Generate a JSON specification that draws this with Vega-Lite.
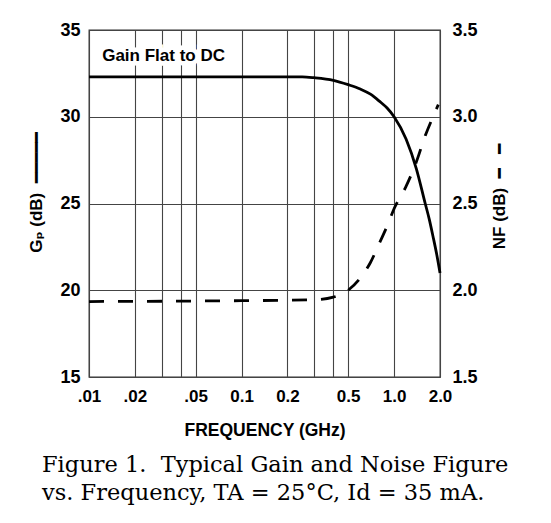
{
  "$schema": "https://vega.github.io/schema/vega-lite/v6.json",
  "width": 351,
  "height": 347,
  "autosize": "none",
  "padding": {"left": 89, "top": 30, "right": 111, "bottom": 146},
  "background": "white",
  "config": {
    "view": {"stroke": "#333", "strokeWidth": 1.3},
    "font": "Liberation Sans"
  },
  "title": {
    "text": ["Figure 1.\u00a0 Typical Gain and Noise Figure", "vs. Frequency, TA = 25°C, Id = 35 mA."],
    "orient": "bottom",
    "anchor": "start",
    "frame": "group",
    "font": "DejaVu Serif",
    "fontSize": 22.5,
    "fontWeight": "normal",
    "lineHeight": 28,
    "dx": -47,
    "offset": 15,
    "color": "black"
  },
  "datasets": {
    "gain": [
      {"freq": 0.01, "gain": 32.3},
      {"freq": 0.1, "gain": 32.3},
      {"freq": 0.25, "gain": 32.3},
      {"freq": 0.3, "gain": 32.25},
      {"freq": 0.4, "gain": 32.1},
      {"freq": 0.5, "gain": 31.85},
      {"freq": 0.6, "gain": 31.6},
      {"freq": 0.7, "gain": 31.3},
      {"freq": 0.8, "gain": 30.9},
      {"freq": 0.9, "gain": 30.5},
      {"freq": 1.0, "gain": 30.0},
      {"freq": 1.2, "gain": 28.7},
      {"freq": 1.4, "gain": 27.0},
      {"freq": 1.6, "gain": 25.0},
      {"freq": 1.7, "gain": 24.1},
      {"freq": 1.8, "gain": 23.1},
      {"freq": 1.9, "gain": 22.1},
      {"freq": 2.0, "gain": 21.0}
    ],
    "nf": [
      {"freq": 0.01, "nf": 1.935},
      {"freq": 0.1, "nf": 1.94},
      {"freq": 0.3, "nf": 1.945},
      {"freq": 0.4, "nf": 1.96},
      {"freq": 0.5, "nf": 2.0},
      {"freq": 0.6, "nf": 2.07},
      {"freq": 0.7, "nf": 2.16},
      {"freq": 0.8, "nf": 2.27},
      {"freq": 0.9, "nf": 2.37},
      {"freq": 1.0, "nf": 2.47},
      {"freq": 1.2, "nf": 2.6},
      {"freq": 1.4, "nf": 2.74},
      {"freq": 1.6, "nf": 2.89},
      {"freq": 1.8, "nf": 3.0},
      {"freq": 1.95, "nf": 3.07}
    ]
  },
  "layer": [
    {
      "layer": [
        {
          "data": {"name": "gain"},
          "mark": {"type": "line", "color": "black", "strokeWidth": 2.8, "interpolate": "monotone"},
          "encoding": {
            "x": {
              "field": "freq",
              "type": "quantitative",
              "scale": {"type": "log", "domain": [0.01, 2], "nice": false},
              "axis": {
                "values": [0.01, 0.02, 0.03, 0.04, 0.05, 0.1, 0.2, 0.3, 0.4, 0.5, 1, 2],
                "labelExpr": "datum.value == 0.01 ? '.01' : datum.value == 0.02 ? '.02' : datum.value == 0.05 ? '.05' : datum.value == 0.1 ? '0.1' : datum.value == 0.2 ? '0.2' : datum.value == 0.5 ? '0.5' : datum.value == 1 ? '1.0' : datum.value == 2 ? '2.0' : ''",
                "labelFontSize": 17,
                "labelFontWeight": "bold",
                "labelColor": "black",
                "labelPadding": 11,
                "labelFlush": false,
                "labelOverlap": false,
                "ticks": false,
                "domain": false,
                "grid": true,
                "gridColor": "#444",
                "gridWidth": 1.1,
                "title": "FREQUENCY (GHz)",
                "titleFontSize": 17.5,
                "titleFontWeight": "bold",
                "titleColor": "black",
                "titlePadding": 17
              }
            },
            "y": {
              "field": "gain",
              "type": "quantitative",
              "scale": {"domain": [15, 35], "nice": false, "zero": false},
              "axis": {
                "orient": "left",
                "values": [15, 20, 25, 30, 35],
                "labelFontSize": 18,
                "labelFontWeight": "bold",
                "labelColor": "black",
                "labelPadding": 9,
                "labelFlush": false,
                "ticks": false,
                "domain": false,
                "grid": true,
                "gridColor": "#444",
                "gridWidth": 1.1,
                "title": "Gₚ (dB)\u00a0\u00a0━━━━━",
                "titleFont": "Liberation Sans, DejaVu Sans",
                "titleFontSize": 17,
                "titleFontWeight": "bold",
                "titleColor": "black",
                "titlePadding": 14,
                "titleY": 162
              }
            }
          }
        },
        {
          "data": {"values": [{"label": "Gain Flat to DC"}]},
          "mark": {"type": "text", "align": "left", "baseline": "middle", "fontSize": 17, "fontWeight": "bold", "stroke": "white", "strokeWidth": 9, "color": "white"},
          "encoding": {
            "x": {"datum": 0.0122, "type": "quantitative", "scale": {"type": "log", "domain": [0.01, 2], "nice": false}},
            "y": {"datum": 33.5, "type": "quantitative", "scale": {"domain": [15, 35], "nice": false, "zero": false}},
            "text": {"field": "label"}
          }
        },
        {
          "data": {"values": [{"label": "Gain Flat to DC"}]},
          "mark": {"type": "text", "align": "left", "baseline": "middle", "fontSize": 17, "fontWeight": "bold", "color": "black"},
          "encoding": {
            "x": {"datum": 0.0122, "type": "quantitative", "scale": {"type": "log", "domain": [0.01, 2], "nice": false}},
            "y": {"datum": 33.5, "type": "quantitative", "scale": {"domain": [15, 35], "nice": false, "zero": false}},
            "text": {"field": "label"}
          }
        }
      ]
    },
    {
      "data": {"name": "nf"},
      "mark": {"type": "line", "color": "black", "strokeWidth": 2.8, "strokeDash": [15, 14], "interpolate": "monotone"},
      "encoding": {
        "x": {"field": "freq", "type": "quantitative", "scale": {"type": "log", "domain": [0.01, 2], "nice": false}},
        "y": {
          "field": "nf",
          "type": "quantitative",
          "scale": {"domain": [1.5, 3.5], "nice": false, "zero": false},
          "axis": {
            "orient": "right",
            "values": [1.5, 2, 2.5, 3, 3.5],
            "format": ".1f",
            "labelFontSize": 18,
            "labelFontWeight": "bold",
            "labelColor": "black",
            "labelPadding": 12,
            "labelFlush": false,
            "ticks": false,
            "domain": false,
            "grid": false,
            "title": "NF (dB)\u00a0\u00a0━\u00a0\u00a0\u00a0━",
            "titleFont": "Liberation Sans, DejaVu Sans",
            "titleAngle": 270,
            "titleFontSize": 17,
            "titleFontWeight": "bold",
            "titleColor": "black",
            "titlePadding": 31,
            "titleY": 166
          }
        }
      }
    }
  ],
  "resolve": {"scale": {"y": "independent"}, "axis": {"y": "independent"}}
}
